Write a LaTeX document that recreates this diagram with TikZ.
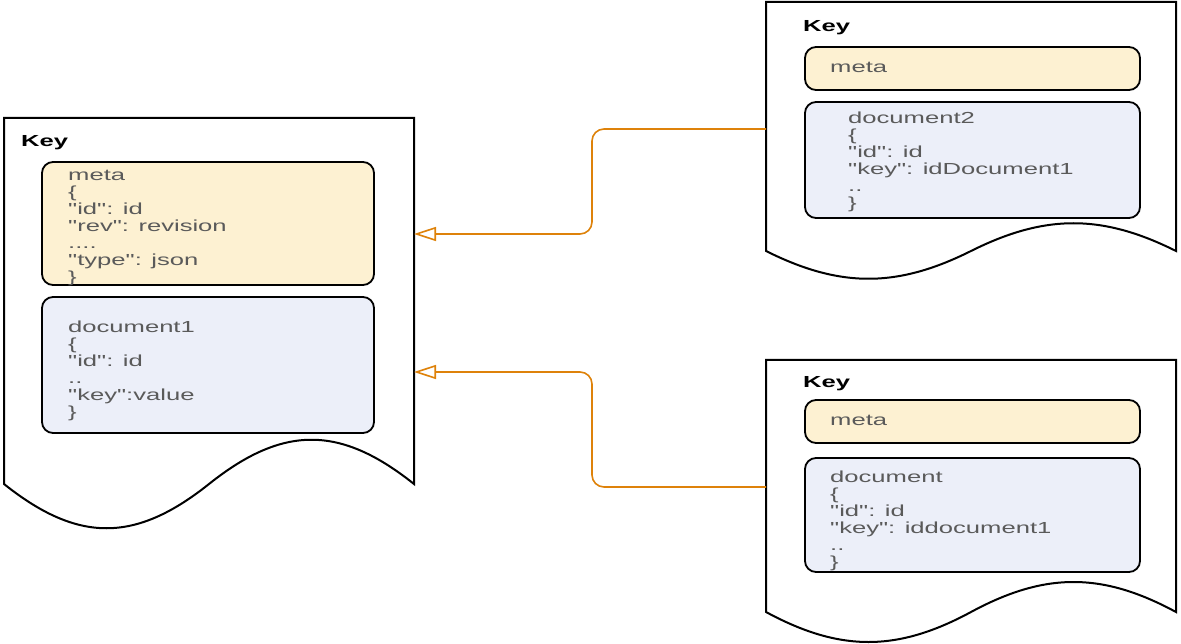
\documentclass[tikz,border=0pt]{standalone}
\usepackage{fontspec}
\newfontfamily\labfont[FakeStretch=1.6]{Liberation Sans}
\usetikzlibrary{arrows.meta}
\definecolor{metafill}{HTML}{FDF1D2}
\definecolor{docfill}{HTML}{ECEFF9}
\definecolor{connc}{RGB}{222,130,10}
\definecolor{txt}{HTML}{5A5A5A}
\begin{document}
\begin{tikzpicture}[x=1pt,y=-1pt,
 docline/.style={draw=black,line width=2pt,fill=white,line join=miter},
 body/.style={inner sep=0pt,outer sep=0pt,anchor=north west},
 metabox/.style={draw=black,line width=1.8pt,rounded corners=11pt,fill=metafill,inner sep=0pt,outer sep=0pt,anchor=north west},
 jsonbox/.style={draw=black,line width=1.8pt,rounded corners=11pt,fill=docfill,inner sep=0pt,outer sep=0pt,anchor=north west},
 keylabel/.style={inner sep=0pt,anchor=base west,font=\labfont\bfseries\fontsize{16}{17}\selectfont},
 content/.style={inner sep=0pt,anchor=north west,align=left,text=txt,font=\labfont\fontsize{16}{17}\selectfont},
 link/.style={draw=connc,line width=1.6pt,rounded corners=12pt,-{Triangle[open,length=22pt,width=14pt,line width=1.6pt]}}]
\useasboundingbox (0,0) rectangle (1181,644);

% document shapes
\draw[docline] (4,484) -- (4,118) -- (414,118) -- (414,484)
  .. controls (340,425) and (283,425) .. (209,484)
  .. controls (135,543) and (78,543) .. (4,484) -- cycle;
\draw[docline] (766,251) -- (766,2) -- (1176,2) -- (1176,251)
  .. controls (1102,214) and (1045,214) .. (971,251)
  .. controls (897,288) and (840,288) .. (766,251) -- cycle;
\draw[docline] (766,612) -- (766,360) -- (1176,360) -- (1176,612)
  .. controls (1102,572) and (1045,572) .. (971,612)
  .. controls (897,652) and (840,652) .. (766,612) -- cycle;

\node[body,minimum width=410pt,minimum height=366pt] (doc1) at (4,118) {};
\node[body,minimum width=410pt,minimum height=249pt] (doc2) at (766,2) {};
\node[body,minimum width=410pt,minimum height=252pt] (doc3) at (766,360) {};

% left document
\node[keylabel] (k1) at (21,147) {Key};
\node[metabox,minimum width=332pt,minimum height=123pt] (m1) at (42,162) {};
\node[jsonbox,minimum width=332pt,minimum height=136pt] (j1) at (42,297) {};
\node[content] (t1) at (68,168) {\rule{0pt}{12pt}meta\\\{\\"id": id\\"rev": revision\\....\\"type": json\\\}};
\node[content] (u1) at (68,320) {\rule{0pt}{12pt}document1\\\{\\"id": id\\..\\"key":value\\\}};

% top right document
\node[keylabel] (k2) at (803,32) {Key};
\node[metabox,minimum width=335pt,minimum height=43pt] (m2) at (805,47) {};
\node[jsonbox,minimum width=335pt,minimum height=116pt] (j2) at (805,102) {};
\node[content] (t2) at (830,60) {\rule{0pt}{12pt}meta};
\node[content] (u2) at (848,111) {\rule{0pt}{12pt}document2\\\{\\"id": id\\"key": idDocument1\\..\\\}};

% bottom right document
\node[keylabel] (k3) at (803,388) {Key};
\node[metabox,minimum width=335pt,minimum height=43pt] (m3) at (805,400) {};
\node[jsonbox,minimum width=335pt,minimum height=114pt] (j3) at (805,458) {};
\node[content] (t3) at (830,413) {\rule{0pt}{12pt}meta};
\node[content] (u3) at (830,470) {\rule{0pt}{12pt}document\\\{\\"id": id\\"key": iddocument1\\..\\\}};

% connectors
\draw[link] ([yshift=-2.5pt]doc2.west) -| (592,234) -- (doc1.east |- 0,234);
\draw[link] ([yshift=-1pt]doc3.west) -| (592,372) -- (doc1.east |- 0,372);
\end{tikzpicture}
\end{document}
